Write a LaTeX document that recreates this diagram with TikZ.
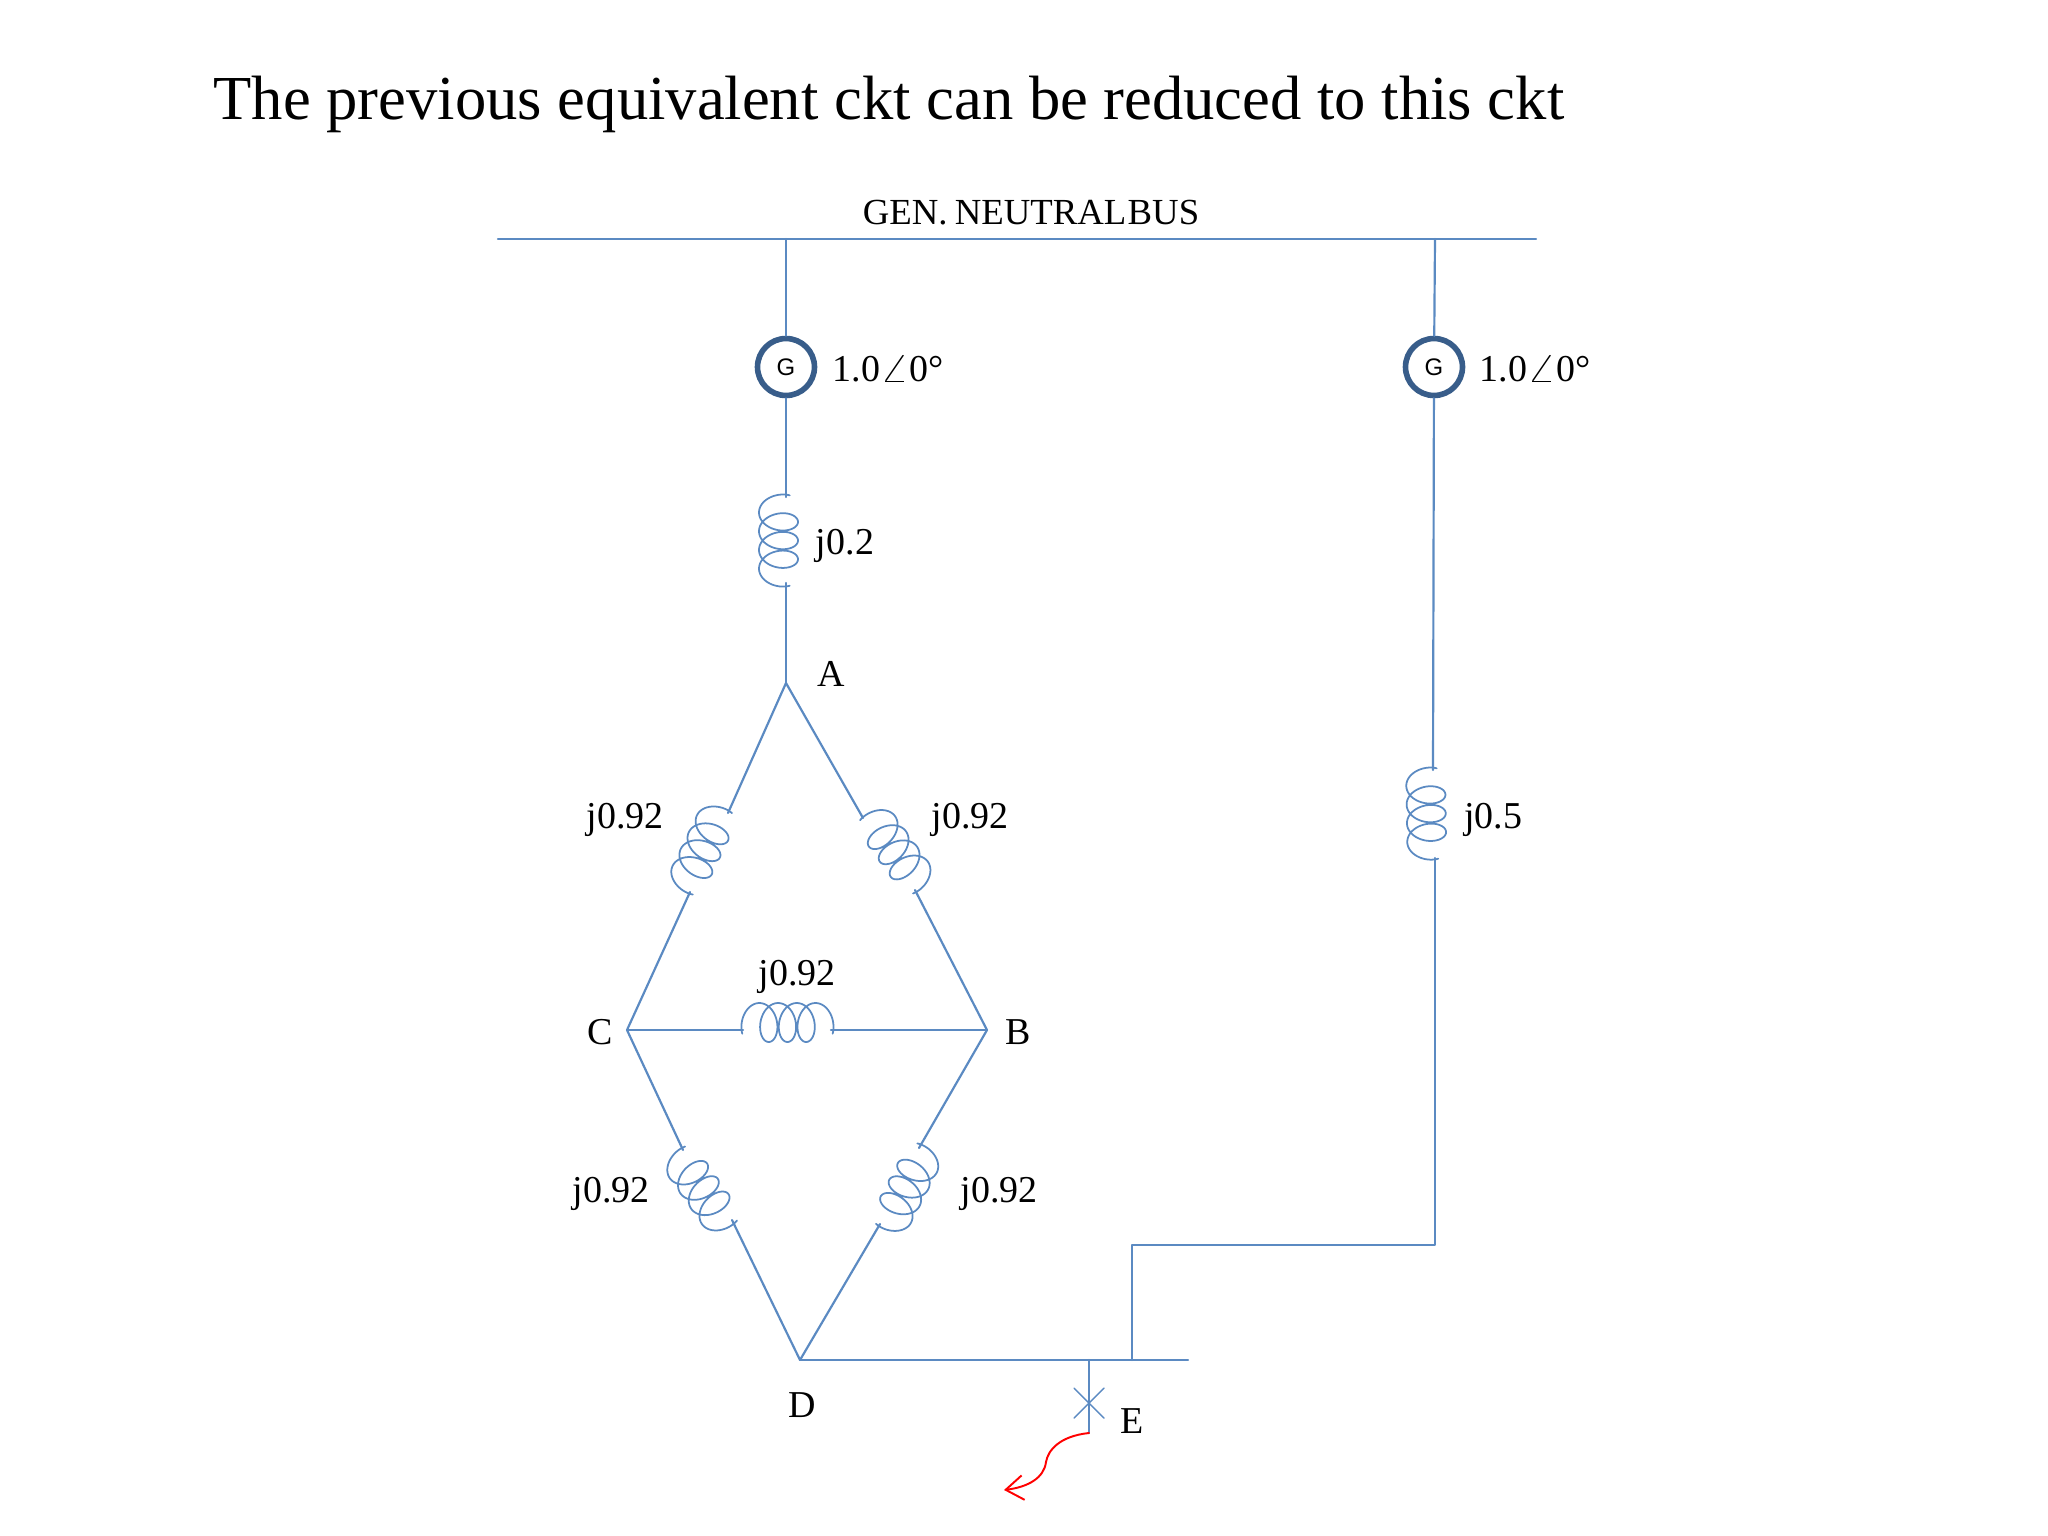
\documentclass[tikz,border=0pt]{standalone}
\usepackage{fontspec}
\setmainfont{Liberation Serif}
\setsansfont{Liberation Sans}
\usetikzlibrary{arrows.meta}
\definecolor{wire}{HTML}{5B8AC2}
\definecolor{genring}{HTML}{385D8A}
\newcommand{\emfangle}{\scalebox{1.25}[1]{$\angle$}}
\tikzset{
  wireline/.style={draw=wire,line width=0.62pt},
  coilpic/.pic={\draw[wire,line width=0.5pt] plot[domain=-125:1205,samples=200,variable=\t] ({15.5+0.05194*\t+13*sin(\t)},{7.5+19.5*cos(\t)});},
  gen/.style={circle,draw=genring,line width=1.6pt,fill=white,minimum size=16.2pt,inner sep=0pt,font=\sffamily\fontsize{6.8}{8}\selectfont},
  lbl/.style={inner sep=0pt,font=\fontsize{10.8}{13}\selectfont}
}
\begin{document}
\begin{tikzpicture}[x=0.01cm,y=-0.01cm,line join=round,line cap=round,>=stealth]
  \useasboundingbox (0,0) rectangle (2048,1536);
  \node[inner sep=0pt,anchor=west,font=\fontsize{17.8}{21}\selectfont] (title) at (213,104) {The previous equivalent ckt can be reduced to this ckt};
  % neutral bus
  \path (498,239)coordinate(busL) (1536,239)coordinate(busR)
        (786,239)coordinate(busA) (1435,239)coordinate(busB);
  \node[lbl,font=\fontsize{10.45}{13}\selectfont] (buslabel) at (1031,213) {\spaceskip=.2em GEN. {\spaceskip=.04em NEUTRAL BUS}};
  % generators
  \node[gen] (g1) at (786,367) {G};
  \node[gen] (g2) at (1434,367) {G};
  \node[lbl] (emf1) at (888,369) {1.0\emfangle0\textdegree};
  \node[lbl] (emf2) at (1535,369) {1.0\emfangle0\textdegree};
  % junctions
  \path (786,683)coordinate(A) (627,1030)coordinate(C) (987,1030)coordinate(B)
        (800,1360)coordinate(D) (1089,1360)coordinate(F) (1188,1360)coordinate(busEnd)
        (1132,1360)coordinate(tieD) (1132,1245)coordinate(tieU) (1435,1245)coordinate(tieR);
  % coil ends
  \path (786,497)coordinate(c1a) (786,583)coordinate(c1b)
        (1433,770)coordinate(c2a) (1435,858)coordinate(c2b)
        (728,813)coordinate(c3a) (690,892)coordinate(c3b)
        (863,818)coordinate(c4a) (915,890)coordinate(c4b)
        (743,1030)coordinate(c5a) (831,1030)coordinate(c5b)
        (683,1150)coordinate(c6a) (732,1220)coordinate(c6b)
        (919,1148)coordinate(c7a) (880,1224)coordinate(c7b);
  \draw[wireline] (busL)--(busR);
  \draw[wireline] (busA)--(g1);
  \draw[wireline] (g1)--(c1a);
  \draw[wireline] (c1b)--(A);
  \draw[wireline] (busB)--(g2);
  \draw[wireline] (g2)--(c2a);
  \draw[wireline] (c2b)--(tieR)--(tieU)--(tieD);
  \draw[wireline] (A)--(c3a);
  \draw[wireline] (c3b)--(C);
  \draw[wireline] (A)--(c4a);
  \draw[wireline] (c4b)--(B);
  \draw[wireline] (C)--(c5a);
  \draw[wireline] (c5b)--(B);
  \draw[wireline] (C)--(c6a);
  \draw[wireline] (c6b)--(D);
  \draw[wireline] (B)--(c7a);
  \draw[wireline] (c7b)--(D);
  \draw[wireline] (D)--(busEnd);
  \path (c1a) pic[rotate=-90] {coilpic};
  \path (c2a) pic[rotate=-89] {coilpic};
  \path (c3a) pic[rotate=-115.7] {coilpic};
  \path (c4b) pic[rotate=125.8] {coilpic};
  \path (c5b) pic[rotate=180] {coilpic};
  \path (c6a) pic[rotate=-55] {coilpic};
  \path (c7b) pic[rotate=62.8] {coilpic};
  \node[lbl] (l1) at (845,546) {j0.2};
  \node[lbl] (l2) at (1493,820) {j0.5};
  \node[lbl] (l3) at (625,820) {j0.92};
  \node[lbl] (l4) at (970,820) {j0.92};
  \node[lbl] (l5) at (797,977) {j0.92};
  \node[lbl] (l6) at (611,1194) {j0.92};
  \node[lbl] (l7) at (999,1194) {j0.92};
  \node[lbl] (nA) at (831,674) {A};
  \node[lbl] (nB) at (1018,1032) {B};
  \node[lbl] (nC) at (600,1032) {C};
  \node[lbl] (nD) at (802,1405) {D};
  \node[lbl] (nE) at (1132,1421) {E};
  % fault
  \path (1089,1433)coordinate(Fb) (1004,1490)coordinate(Ftip)
        (1074,1388)coordinate(x1) (1104,1418)coordinate(x2)
        (1104,1388)coordinate(x3) (1074,1418)coordinate(x4);
  \draw[wireline] (F)--(Fb);
  \draw[wireline,line width=0.4pt] (x1)--(x2);
  \draw[wireline,line width=0.4pt] (x3)--(x4);
  \draw[red,line width=0.55pt,-{Straight Barb[length=5pt,width=7pt]}] (Fb) .. controls (1060,1436) and (1048,1450) .. (1046,1462)
     .. controls (1044,1478) and (1028,1487) .. (Ftip);
\end{tikzpicture}
\end{document}
